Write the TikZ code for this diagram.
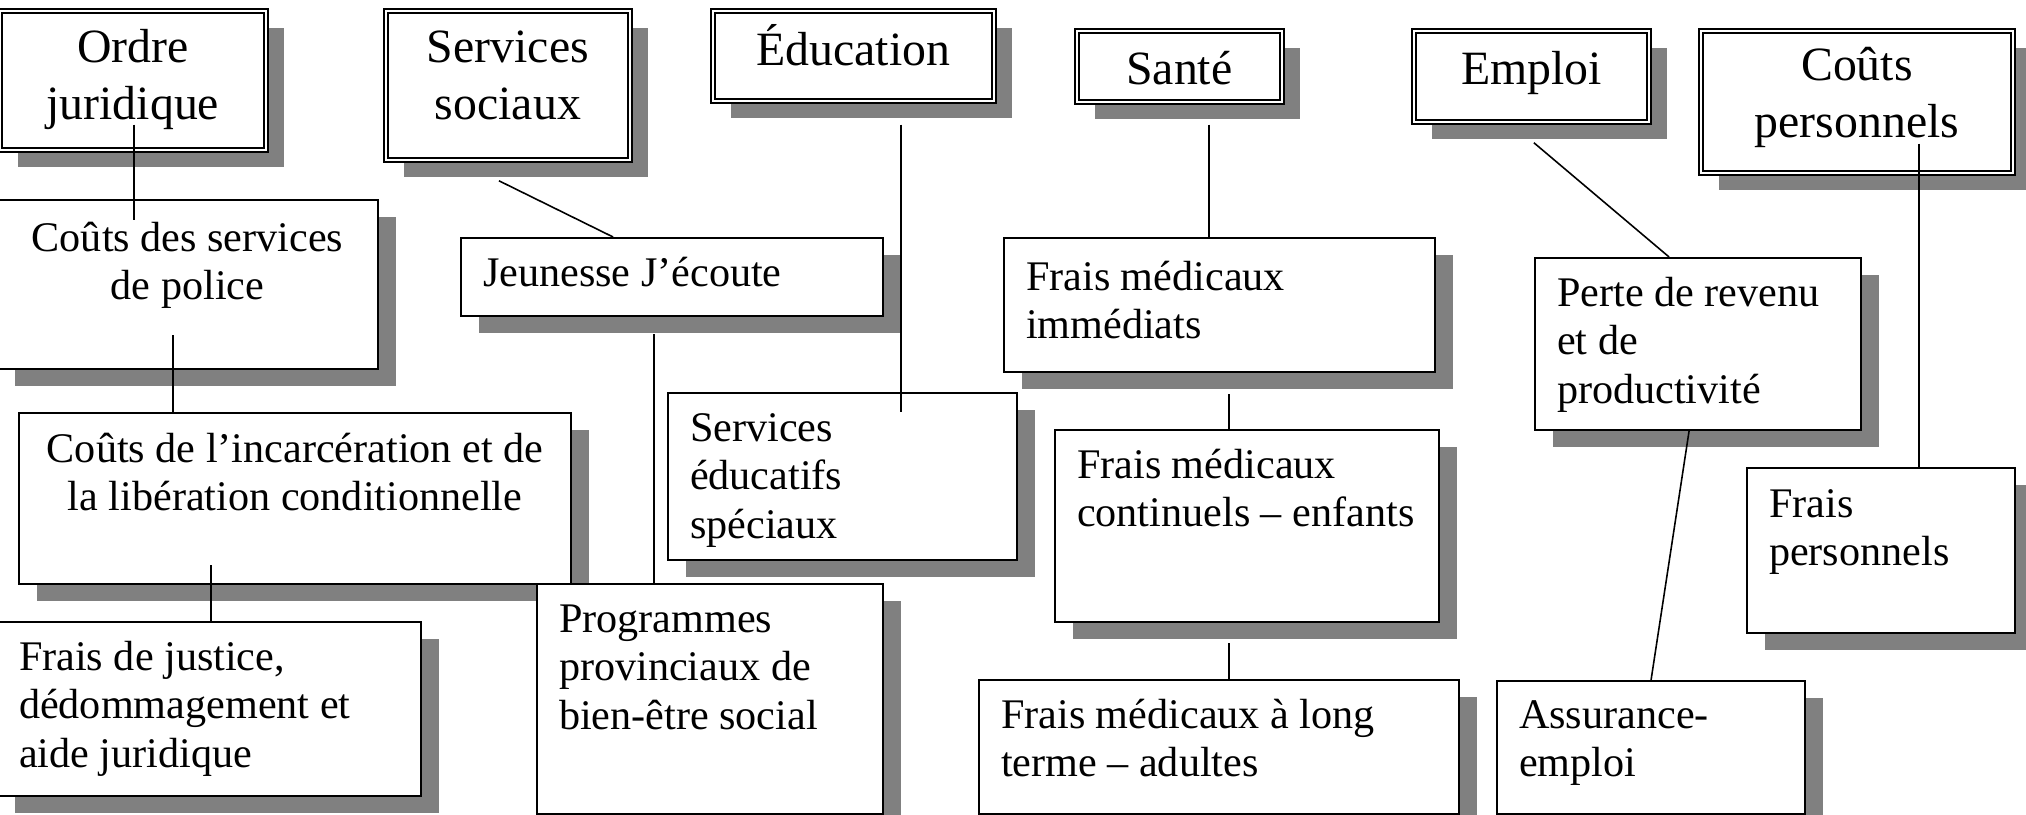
\documentclass[tikz,border=0pt]{standalone}
\usepackage{fontspec}
\setmainfont{Liberation Serif}
\usepackage{tikz}
\usetikzlibrary{shadows}

\definecolor{ombre}{HTML}{808080}
\newcommand{\corps}{\fontsize{12pt}{13.7pt}\selectfont}
\newcommand{\gros}{\fontsize{13.6pt}{16.2pt}\selectfont}
% text box: [alignment]{width}{height}{top gap}{text}
\newcommand{\boite}[5][\raggedright\leftskip=2.2mm]{\parbox[c][#3][t]{#2}{#1\vspace*{#4}\strut#5}}

\tikzset{
  cadre/.style={draw, fill=white, line width=0.6pt, inner sep=0pt, anchor=north west, font=\corps,
    drop shadow={shadow xshift=0.18cm, shadow yshift=-0.17cm, fill=ombre, opacity=1}},
  titre/.style={cadre, double, double distance=0.6pt, line width=0.5pt, font=\gros},
  lien/.style={line width=0.45pt}
}

\begin{document}
\begin{tikzpicture}
  \useasboundingbox (0,0) rectangle (20.26,-8.15);

  % categories
  \node[titre] (ordre)  at (-0.01,-0.10) {\boite[\centering]{2.66cm}{1.39cm}{0.12cm}{Ordre\\juridique}};
  \node[titre] (socsoc) at (3.85,-0.10)  {\boite[\centering]{2.44cm}{1.49cm}{0.12cm}{Services\\sociaux}};
  \node[titre] (educ)   at (7.12,-0.10)  {\boite[\centering]{2.81cm}{0.90cm}{0.14cm}{Éducation}};
  \node[titre] (sante)  at (10.76,-0.30) {\boite[\centering]{2.05cm}{0.71cm}{0.14cm}{Santé}};
  \node[titre] (emploi) at (14.13,-0.30) {\boite[\centering]{2.35cm}{0.91cm}{0.14cm}{Emploi}};
  \node[titre] (coutsp) at (17.00,-0.30) {\boite[\centering]{3.12cm}{1.42cm}{0.10cm}{Coûts\\personnels}};

  % costs
  \node[cadre] (police)   at (-0.04,-1.99) {\boite[\centering]{3.81cm}{1.69cm}{0.18cm}{Coûts des services\\de police}};
  \node[cadre] (incar)    at (0.18,-4.12)  {\boite[\centering]{5.52cm}{1.71cm}{0.16cm}{Coûts de l’incarcération et de\\la libération conditionnelle}};
  \node[cadre] (justice)  at (-0.04,-6.21) {\boite{4.24cm}{1.74cm}{0.15cm}{Frais de justice,\\dédommagement et\\aide juridique}};
  \node[cadre] (jeunesse) at (4.60,-2.37)  {\boite{4.22cm}{0.78cm}{0.15cm}{Jeunesse J’écoute}};
  \node[cadre] (progs)    at (5.36,-5.83)  {\boite{3.46cm}{2.30cm}{0.15cm}{Programmes\\provinciaux de\\bien-être social}};
  \node[cadre] (educsp)   at (6.67,-3.92)  {\boite{3.49cm}{1.67cm}{0.15cm}{Services\\éducatifs\\spéciaux}};
  \node[cadre] (immed)    at (10.03,-2.37) {\boite{4.31cm}{1.34cm}{0.19cm}{Frais médicaux\\immédiats}};
  \node[cadre] (contin)   at (10.54,-4.29) {\boite{3.84cm}{1.92cm}{0.15cm}{Frais médicaux\\continuels – enfants}};
  \node[cadre] (longt)    at (9.78,-6.79)  {\boite{4.80cm}{1.34cm}{0.15cm}{Frais médicaux à long\\terme – adultes}};
  \node[cadre] (perte)    at (15.34,-2.57) {\boite{3.26cm}{1.72cm}{0.15cm}{Perte de revenu\\et de\\productivité}};
  \node[cadre] (assur)    at (14.96,-6.80) {\boite{3.08cm}{1.33cm}{0.14cm}{Assurance-\\emploi}};
  \node[cadre] (fpers)    at (17.46,-4.67) {\boite{2.68cm}{1.65cm}{0.16cm}{Frais\\personnels}};

  % links
  \draw[lien] ([shift={(0.01,0.26)}]ordre.south) coordinate (l1) -- ([yshift=-2.1mm]l1 |- police.north);
  \draw[lien] ([shift={(-0.145,0.35)}]police.south) coordinate (l2) -- (l2 |- incar.north);
  \draw[lien] ([shift={(-0.84,0.20)}]incar.south) coordinate (l3) -- (l3 |- justice.north);
  \draw[lien] ([shift={(-0.09,-0.20)}]socsoc.south) -- ([xshift=-5.9mm]jeunesse.north);
  \draw[lien] ([shift={(-0.18,-0.17)}]jeunesse.south) coordinate (l4) -- (l4 |- progs.north);
  \draw[lien] ([shift={(0.475,-0.23)}]educ.south) coordinate (l5) -- ([yshift=-2mm]l5 |- educsp.north);
  \draw[lien] ([shift={(0.295,-0.22)}]sante.south) coordinate (l6) -- (l6 |- immed.north);
  \draw[lien] ([shift={(0.095,-0.21)}]immed.south) coordinate (l7) -- (l7 |- contin.north);
  \draw[lien] ([shift={(-0.18,-0.20)}]contin.south) coordinate (l8) -- (l8 |- longt.north);
  \draw[lien] ([shift={(0.025,-0.20)}]emploi.south) -- ([xshift=-2.9mm]perte.north);
  \draw[lien] ([xshift=-0.9mm]perte.south) -- (assur.north);
  \draw[lien] ([shift={(0.62,0.30)}]coutsp.south) coordinate (l9) -- (l9 |- fpers.north);
\end{tikzpicture}
\end{document}
